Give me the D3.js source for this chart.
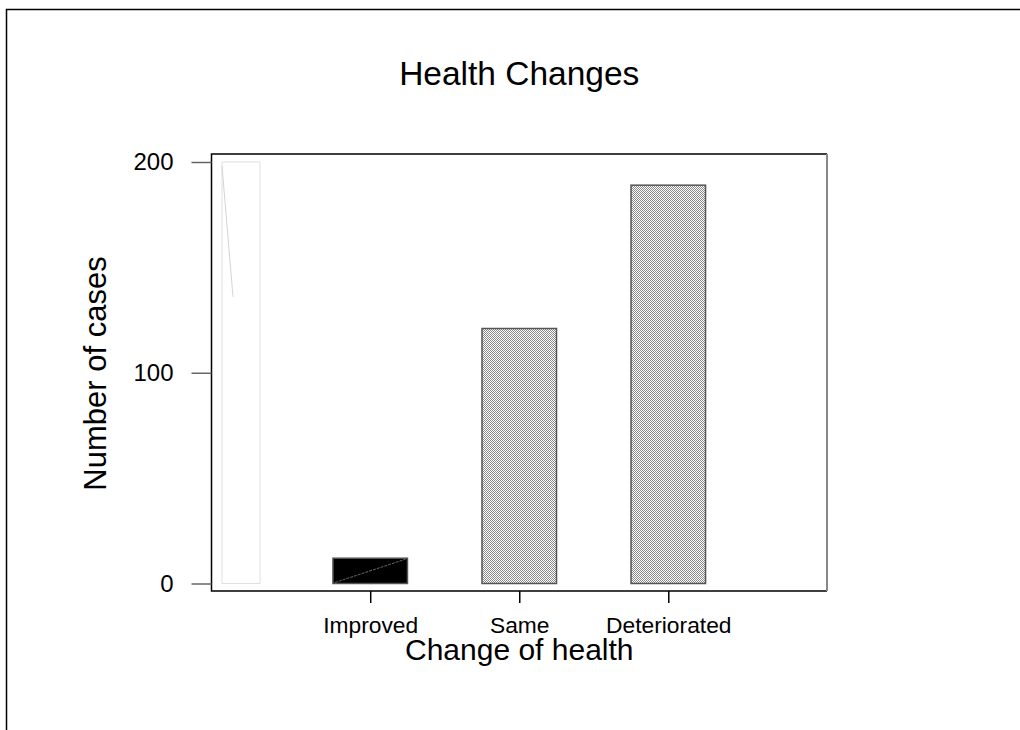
<!DOCTYPE html>
<html>
<head>
<meta charset="utf-8">
<script src="https://cdn.jsdelivr.net/npm/d3@7"></script>
<style>
	body { margin: 0; background: #fff; }
	svg { display: block; }
	text { font-family: "Liberation Sans", Arial, sans-serif; fill: #000; }
</style>
</head>
<body>
<div id="chart"></div>
<script>
/*jshint esversion: 6 */

// data
var categories = ["Improved", "Same", "Deteriorated"];
var cases = [12, 121, 189];
var yTicks = [0, 100, 200];
var ghostValue = 200; // faint leftover bar at the left of the plot

var title = "Health Changes";
var xTitle = "Change of health";
var yTitle = "Number of cases";

// layout
var width = 1020, height = 730;
var box = { left: 211.5, right: 827, top: 154, bottom: 591 };

var svg = d3.select("#chart").append("svg")
	.attr("width", width)
	.attr("height", height);

// hatch pattern for the grey bars
var defs = svg.append("defs");
var pat = defs.append("pattern")
	.attr("id", "checker")
	.attr("patternUnits", "userSpaceOnUse")
	.attr("width", 2)
	.attr("height", 2);
pat.append("rect").attr("width", 2).attr("height", 2).attr("fill", "#fff");
pat.append("rect").attr("width", 1).attr("height", 1).attr("fill", "#8a8a8a");
pat.append("rect").attr("x", 1).attr("y", 1).attr("width", 1).attr("height", 1).attr("fill", "#8a8a8a");

// scales
var yScale = d3.scaleLinear()
	.domain([0, 200])
	.range([box.bottom - 7.5, box.top + 8]);

var xScale = d3.scalePoint()
	.domain(categories)
	.range([box.left, box.right])
	.padding(1.065);

var barW = xScale.step() * 0.5;

// outer frame
svg.append("path")
	.attr("d", "M6.5," + height + "V9.5H" + width)
	.attr("fill", "none")
	.attr("stroke", "#000")
	.attr("stroke-width", 1.5);

function label(g, x, y, str, size, anchor) {
	return g.append("text")
		.attr("x", x)
		.attr("y", y)
		.attr("text-anchor", anchor || "middle")
		.style("font-size", size + "px")
		.text(str);
}

// title
label(svg, (box.left + box.right) / 2, 85, title, 33.5);

// ghost bar
var gx = box.left + 10.5, gw = 38;
svg.append("rect")
	.attr("x", gx)
	.attr("y", yScale(ghostValue))
	.attr("width", gw)
	.attr("height", yScale(0) - yScale(ghostValue))
	.attr("fill", "none")
	.attr("stroke", "#e0e0e0")
	.attr("stroke-width", 1);
svg.append("line")
	.attr("x1", gx).attr("y1", yScale(ghostValue) + 4)
	.attr("x2", gx + 11).attr("y2", yScale(ghostValue * 0.68))
	.attr("stroke", "#d4d4d4")
	.attr("stroke-width", 1);

// bars
var bars = svg.append("g").attr("class", "bars");
bars.selectAll("rect")
	.data(cases)
	.enter().append("rect")
	.attr("x", (d, i) => xScale(categories[i]) - barW / 2)
	.attr("y", d => yScale(d))
	.attr("width", barW)
	.attr("height", d => yScale(0) - yScale(d))
	.attr("fill", (d, i) => i === 0 ? "#000" : "url(#checker)")
	.attr("stroke", "#555")
	.attr("stroke-width", 1.5);

// diagonal in the black bar
bars.append("line")
	.attr("x1", xScale(categories[0]) - barW / 2 + 2)
	.attr("y1", yScale(0) - 1)
	.attr("x2", xScale(categories[0]) + barW / 2 - 2)
	.attr("y2", yScale(cases[0]) + 1)
	.attr("stroke", "#666")
	.attr("stroke-width", 1)
	.attr("stroke-dasharray", "3,1");

// plot box
svg.append("path")
	.attr("d", "M" + box.right + "," + box.top + "H" + box.left + "V" + box.bottom + "H" + box.right)
	.attr("fill", "none")
	.attr("stroke", "#000")
	.attr("stroke-width", 1.5);
svg.append("line")
	.attr("x1", box.right).attr("y1", box.top)
	.attr("x2", box.right).attr("y2", box.bottom)
	.attr("stroke", "#888")
	.attr("stroke-width", 2);

//************ Y AXIS ************
var yAxis = d3.axisLeft(yScale)
	.tickValues(yTicks)
	.tickSize(20)
	.tickPadding(18)
	.tickFormat(d3.format("d"));
var yg = svg.append("g")
	.attr("transform", "translate(" + box.left + ",0)")
	.call(yAxis);
yg.select(".domain").remove();
yg.selectAll(".tick line").attr("stroke", "#666").attr("stroke-width", 1.5);
yg.selectAll(".tick text")
	.attr("fill", "#000")
	.style("font-family", "'Liberation Sans', Arial, sans-serif")
	.style("font-size", "24px");

//************ X AXIS ************
var xAxis = d3.axisBottom(xScale).tickSize(12);
var xg = svg.append("g")
	.attr("transform", "translate(0," + box.bottom + ")")
	.call(xAxis);
xg.select(".domain").remove();
xg.selectAll(".tick line").attr("stroke", "#000").attr("stroke-width", 1.5);
xg.selectAll(".tick text").remove();
xg.selectAll(".tick").each(function(d) {
	label(d3.select(this), 0, 42, d, 22.8);
});

// axis titles
label(svg, (box.left + box.right) / 2, 660, xTitle, 30);

svg.append("text")
	.attr("transform", "translate(106," + ((box.top + box.bottom) / 2 + 1) + ") rotate(-90)")
	.attr("text-anchor", "middle")
	.style("font-size", "31px")
	.text(yTitle);
</script>
</body>
</html>
